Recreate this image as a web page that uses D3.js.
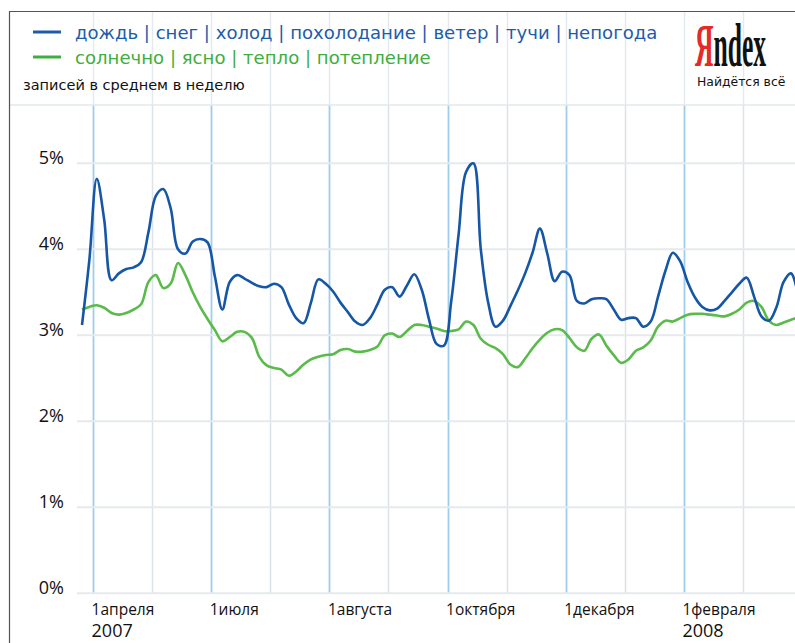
<!DOCTYPE html>
<html>
<head>
<meta charset="utf-8">
<script src="https://cdn.jsdelivr.net/npm/d3@7"></script>
<style>
  body { margin: 0; background: #fff; }
  svg { display: block; }
</style>
</head>
<body>
<svg id="chart"></svg>
<script>
// недельные значения, % записей
const badWeather = [3.12, 3.88, 4.82, 4.35, 3.64, 3.72, 3.77, 3.79, 3.85, 4.2,
  4.62, 4.70, 4.48, 4.0, 3.95, 4.09, 4.12, 4.08, 3.68, 3.30,
  3.62, 3.70, 3.66, 3.61, 3.57, 3.56, 3.60, 3.56, 3.36, 3.20,
  3.14, 3.38, 3.65, 3.60, 3.51, 3.38, 3.27, 3.16, 3.12, 3.20,
  3.36, 3.53, 3.56, 3.45, 3.58, 3.71, 3.53, 3.18, 2.90, 2.88,
  3.40, 4.18, 4.90, 5.00, 4.0, 3.38, 3.10, 3.17, 3.34, 3.52,
  3.72, 3.96, 4.24, 3.95, 3.63, 3.74, 3.70, 3.40, 3.37, 3.42,
  3.43, 3.42, 3.30, 3.18, 3.20, 3.20, 3.10, 3.16, 3.45, 3.75,
  3.96, 3.86, 3.62, 3.44, 3.33, 3.29, 3.31, 3.40, 3.50, 3.60,
  3.67, 3.45, 3.22, 3.17, 3.32, 3.62, 3.72, 3.45];

const goodWeather = [3.30, 3.33, 3.35, 3.32, 3.26, 3.24, 3.26, 3.30, 3.36, 3.62,
  3.70, 3.55, 3.60, 3.84, 3.70, 3.50, 3.33, 3.19, 3.06, 2.93,
  2.98, 3.04, 3.04, 2.97, 2.75, 2.65, 2.62, 2.60, 2.53, 2.58,
  2.66, 2.72, 2.75, 2.77, 2.78, 2.83, 2.84, 2.81, 2.81, 2.83,
  2.87, 3.00, 3.02, 2.98, 3.05, 3.12, 3.12, 3.10, 3.08, 3.05,
  3.05, 3.07, 3.16, 3.12, 2.96, 2.89, 2.85, 2.78, 2.66, 2.63,
  2.73, 2.85, 2.95, 3.03, 3.07, 3.06, 2.97, 2.86, 2.82, 2.96,
  3.01, 2.88, 2.77, 2.68, 2.72, 2.82, 2.86, 2.94, 3.10, 3.17,
  3.16, 3.20, 3.24, 3.25, 3.25, 3.24, 3.23, 3.22, 3.25, 3.30,
  3.38, 3.40, 3.33, 3.17, 3.12, 3.15, 3.18, 3.21];

const badWords = ["дождь", "снег", "холод", "похолодание", "ветер", "тучи", "непогода"];
const goodWords = ["солнечно", "ясно", "тепло", "потепление"];

const yTicks = [0, 1, 2, 3, 4, 5];
const gridWeeks = d3.range(13).map(j => 1.5 + 8 * j);
const tickWeeks = [1.5, 17.5, 33.5, 49.5, 65.5, 81.5];
const tickLabels = ["1апреля", "1июля", "1августа", "1октября", "1декабря", "1февраля"];
const yearLabels = ["2007", "", "", "", "", "2008"];

const W = 795, H = 643;
const blue = "#1656a6", green = "#5abb4b";

const svg = d3.select("#chart").attr("width", W).attr("height", H);

const x = d3.scaleLinear().domain([0, 96]).range([82, 791]);
const y = d3.scaleLinear().domain([0, 5]).range([593.3, 163.3]);

const frameTop = 12, sepY = 105;

// вертикальная сетка
gridWeeks.forEach((w, i) => {
  const xx = Math.round(x(w)) + 0.5;
  svg.append("line")
    .attr("x1", xx).attr("x2", xx).attr("y1", frameTop).attr("y2", sepY)
    .attr("stroke", "#e2eaef").attr("stroke-width", 1.5);
  svg.append("line")
    .attr("x1", xx).attr("x2", xx).attr("y1", sepY).attr("y2", y(0))
    .attr("stroke", i % 2 === 0 ? "#9fcdec" : "#d9e3e9")
    .attr("stroke-width", i % 2 === 0 ? 1.8 : 1.5);
});

// разделитель под легендой
svg.append("line")
  .attr("x1", 9).attr("x2", W).attr("y1", sepY).attr("y2", sepY)
  .attr("stroke", "#e2e8ea").attr("stroke-width", 1.5);

// горизонтальная сетка
svg.append("g").selectAll("line")
  .data(yTicks).enter().append("line")
  .attr("x1", 77).attr("x2", W)
  .attr("y1", d => y(d)).attr("y2", d => y(d))
  .attr("stroke", "#e6eaec").attr("stroke-width", 2);

svg.append("g").selectAll("text")
  .data(yTicks).enter().append("text")
  .attr("x", 64).attr("y", d => y(d) + 1)
  .attr("text-anchor", "end")
  .style("font-family", "'Open Sans', sans-serif")
  .style("font-size", "18px")
  .style("fill", "#111")
  .text(d => d + "%");

// подписи оси X
tickWeeks.forEach((w, i) => {
  svg.append("text")
    .attr("x", x(w) - 1.5).attr("y", 615)
    .style("font-family", "'Open Sans', sans-serif")
    .style("font-size", "15.5px")
    .style("fill", "#111")
    .text(tickLabels[i]);
  if (yearLabels[i]) {
    svg.append("text")
      .attr("x", x(w) - 1.5).attr("y", 637)
      .style("font-family", "'Open Sans', sans-serif")
      .style("font-size", "18px")
      .style("fill", "#111")
      .text(yearLabels[i]);
  }
});

// линии
const line = d3.line()
  .x((d, i) => x(i))
  .y(d => y(d))
  .curve(d3.curveCatmullRom.alpha(0.5));

svg.append("path").datum(goodWeather)
  .attr("d", line).attr("fill", "none")
  .attr("stroke", green).attr("stroke-width", 2.6)
  .attr("stroke-linejoin", "round");

svg.append("path").datum(badWeather)
  .attr("d", line).attr("fill", "none")
  .attr("stroke", blue).attr("stroke-width", 2.6)
  .attr("stroke-linejoin", "round");

// рамка
svg.append("line").attr("x1", 9).attr("x2", W).attr("y1", 11.5).attr("y2", 11.5)
  .attr("stroke", "#555").attr("stroke-width", 1.2);
svg.append("line").attr("x1", 9.5).attr("x2", 9.5).attr("y1", 11).attr("y2", H)
  .attr("stroke", "#555").attr("stroke-width", 1.2);

// легенда
function legendRow(words, color, yy) {
  svg.append("line")
    .attr("x1", 33).attr("x2", 61).attr("y1", yy).attr("y2", yy)
    .attr("stroke", color).attr("stroke-width", 3);
  svg.append("text")
    .attr("x", 75).attr("y", yy + 6.5)
    .style("font-family", "'DejaVu Sans', Verdana, sans-serif")
    .style("font-size", "18.1px")
    .style("fill", color)
    .text(words.join(" | "));
}
legendRow(badWords, "#1d5cab", 32);
legendRow(goodWords, "#3eae3e", 57);

svg.append("text")
  .attr("x", 23).attr("y", 90)
  .style("font-family", "'DejaVu Sans', Verdana, sans-serif")
  .style("font-size", "14.5px")
  .style("fill", "#111")
  .text("записей в среднем в неделю");

// логотип
const logo = svg.append("text")
  .attr("transform", "translate(695,66) scale(0.42,1)")
  .style("font-family", "'Liberation Serif', 'DejaVu Serif', serif")
  .style("font-size", "61px")
  .style("font-weight", "bold");
logo.append("tspan").style("fill", "#e52a27").text("Я");
logo.append("tspan").style("fill", "#111").text("ndex");

svg.append("text")
  .attr("x", 697).attr("y", 86)
  .style("font-family", "'DejaVu Sans', Verdana, sans-serif")
  .style("font-size", "12.4px")
  .style("fill", "#111")
  .text("Найдётся всё");
</script>
</body>
</html>
